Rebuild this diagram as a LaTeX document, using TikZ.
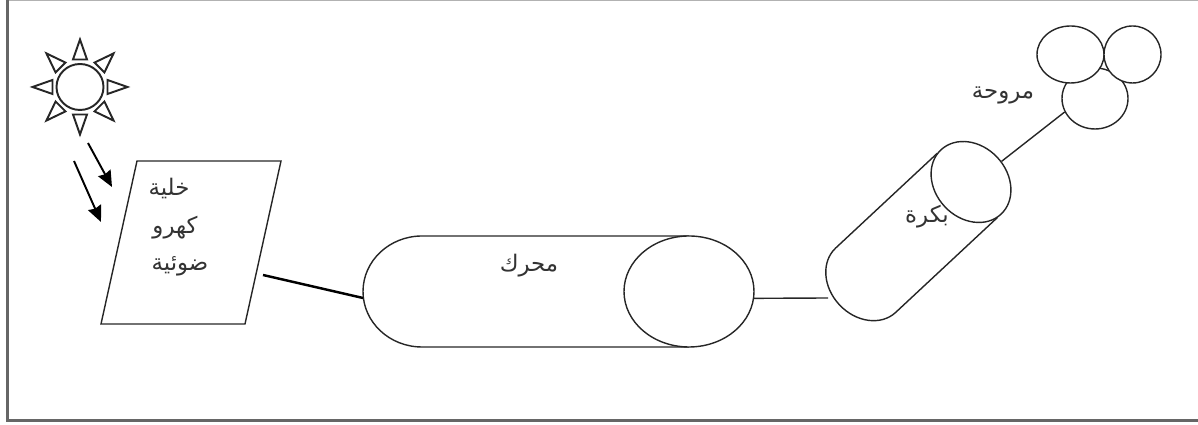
\documentclass[tikz,border=0pt]{standalone}
\usepackage{fontspec}
\usetikzlibrary{arrows.meta,shapes.geometric}
\TeXXeTstate=1
\newfontfamily\arabicfont[Script=Arabic]{DejaVu Sans}
\tikzset{
  part/.style={draw=black!85,line width=0.8pt},
  round part/.style={part,ellipse,inner sep=0pt,fill=white},
  label/.style={font=\arabicfont\fontsize{13}{15}\selectfont,text=black!80,inner sep=0pt},
  ray/.style={line width=1.1pt,-{Stealth[length=3.2mm,width=2.8mm,inset=0.3mm]}},
}
\begin{document}
\begin{tikzpicture}[x=1cm, y=1cm]
  \useasboundingbox (0,0) rectangle (23.96,8.5);

  % Outer frame
  \draw[black!30,line width=0.8pt] (0.15,8.49) -- (23.96,8.49);
  \draw[black!60,line width=2pt] (0.15,8.5) -- (0.15,0.09) -- (23.96,0.09);

  % Sun
  \node[round part,line width=1.1pt,minimum width=0.94cm,minimum height=0.92cm] (sun) at (1.60,6.76) {};
  \foreach \a in {0,45,...,315} {
    \draw[part,line width=1.1pt,shift={(sun.center)},rotate=\a] (0.55,-0.14) -- (0.95,0) -- (0.55,0.14) -- cycle;
  }

  % Rays
  \coordinate (rayastart) at (1.76,5.64);
  \coordinate (rayaend) at (2.24,4.76);
  \coordinate (raybstart) at (1.48,5.28);
  \coordinate (raybend) at (2.02,4.06);
  \draw[ray] (rayastart) -- (rayaend);
  \draw[ray] (raybstart) -- (raybend);

  % Panel
  \draw[part] (2.74,5.28) -- (5.62,5.28) -- (4.90,2.02) -- (2.02,2.02) -- cycle;
  \node[label] (cella) at (3.38,4.72) {\beginR خلية\endR};
  \node[label] (cellb) at (3.50,3.95) {\beginR كهرو\endR};
  \node[label] (cellc) at (3.60,3.18) {\beginR ضوئية\endR};

  % Motor
  \draw[part] (13.78,3.78) -- (8.44,3.78) arc[start angle=90,end angle=270,x radius=1.18,y radius=1.11] -- (13.78,1.56);
  \node[round part,minimum width=2.60cm,minimum height=2.22cm] (motorend) at (13.78,2.67) {};
  \node[label] (motorname) at (10.58,3.18) {\beginR محرك\endR};

  % Pulley
  \node[round part,fill=none,rotate=-47,minimum width=1.76cm,minimum height=1.44cm] (pulleyend) at (19.42,4.86) {};
  \begin{scope}[shift={(pulleyend.center)},rotate=-47]
    \draw[part] (-0.88,-0.1) -- (-0.88,-2.88) arc[start angle=180,end angle=360,x radius=0.88,y radius=0.72] -- (0.88,-0.1);
  \end{scope}
  \node[label] (pulleyname) at (18.54,4.16) {\beginR بكرة\endR};

  % Fan
  \node[round part,minimum width=1.32cm,minimum height=1.22cm] (fanbottom) at (21.90,6.53) {};
  \node[round part,minimum width=1.34cm,minimum height=1.14cm] (fanleft) at (21.41,7.41) {};
  \node[round part,minimum width=1.14cm,minimum height=1.14cm] (fanright) at (22.65,7.41) {};
  \node[label] (fanname) at (20.06,6.60) {\beginR مروحة\endR};

  % Connectors
  \coordinate (panelout) at (5.26,3.00);
  \coordinate (motorin) at (7.26,2.54);
  \coordinate (pulleyin) at (16.56,2.54);
  \draw[line width=1.4pt] (panelout) -- (motorin);
  \draw[part] (motorend.-6) -- (pulleyin);
  \draw[part] (pulleyend.81) -- (fanbottom.204);
\end{tikzpicture}
\end{document}
